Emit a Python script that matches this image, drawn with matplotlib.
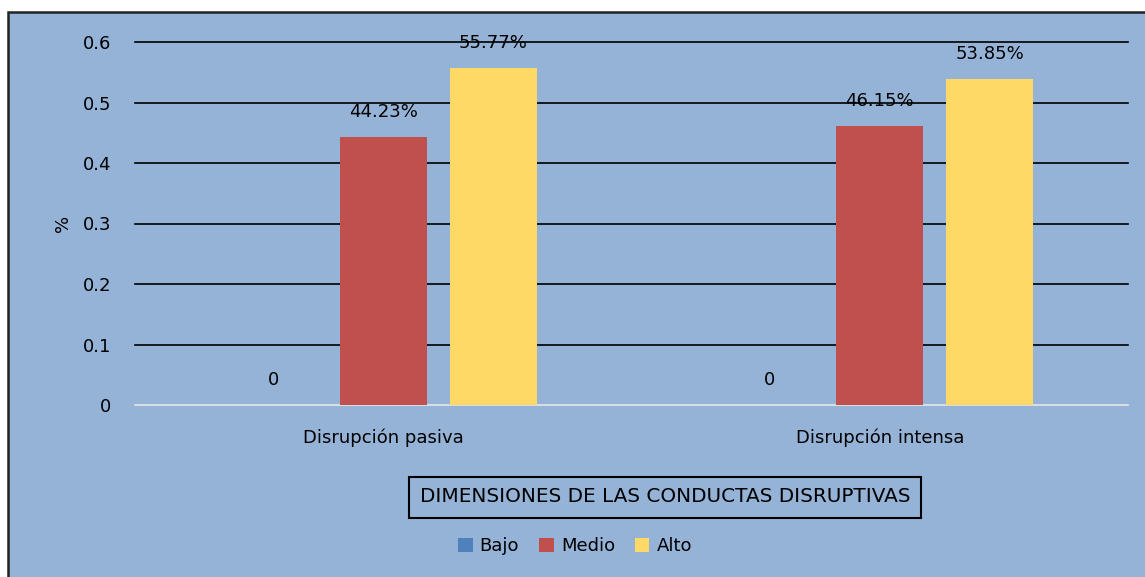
import matplotlib
matplotlib.use("Agg")
import matplotlib.pyplot as plt
from matplotlib.patches import Rectangle
import numpy as np

categories = ["Disrupción pasiva", "Disrupción intensa"]
series_names = ["Bajo", "Medio", "Alto"]
bajo = [0, 0]
medio = [0.4423, 0.4615]
alto = [0.5577, 0.5385]
labels_bajo = ["0", "0"]
labels_medio = ["44.23%", "46.15%"]
labels_alto = ["55.77%", "53.85%"]
yticks = [0, 0.1, 0.2, 0.3, 0.4, 0.5, 0.6]
ytick_labels = ["0", "0.1", "0.2", "0.3", "0.4", "0.5", "0.6"]
colors = ["#4F81BD", "#C0504D", "#FFD966"]
bg = "#95B3D7"

plt.rcParams['font.family'] = ['DejaVu Sans']

fig = plt.figure(figsize=(11.45, 5.77), dpi=100)
fig.patch.set_facecolor("white")
# outer chart area with border
fig.patches.append(Rectangle((8/1145, -0.02), 1.05, 0.02 + 1 - 12/577,
                             transform=fig.transFigure, facecolor=bg,
                             edgecolor="#222222", lw=1.8, zorder=-5))

ax = fig.add_axes([135/1145, 1 - 405/577, (1128-135)/1145, (405-42)/577])
ax.set_facecolor("none")

x = np.arange(len(categories))
w = 0.175
step = 0.2216
series = [bajo, medio, alto]
labels = [labels_bajo, labels_medio, labels_alto]
for i, (vals, lab, c) in enumerate(zip(series, labels, colors)):
    pos = x + (i - 1) * step
    ax.bar(pos, vals, width=w, color=c, zorder=3, label=series_names[i])
    for p, v, t in zip(pos, vals, lab):
        ax.annotate(t, (p, v), xytext=(0, 18), textcoords="offset points",
                    ha="center", va="center", fontsize=13, color="black", zorder=4)

ax.set_xlim(-0.5, 1.5)
ax.set_ylim(0, 0.6)
ax.set_yticks(yticks)
ax.set_yticklabels(ytick_labels)
ax.set_xticks(x)
ax.set_xticklabels(categories)
ax.tick_params(axis="both", length=0, labelsize=13)
ax.tick_params(axis="y", pad=17)
ax.tick_params(axis="x", pad=17)
for yv in yticks[1:]:
    ax.axhline(yv, color="black", lw=1.2, zorder=1, clip_on=False)
for s in ["top", "right", "left"]:
    ax.spines[s].set_visible(False)
ax.spines["bottom"].set_color("#E6E6E6")
ax.spines["bottom"].set_linewidth(1.2)
ax.spines["bottom"].set_zorder(2)
ax.set_ylabel("%", fontsize=13, labelpad=8)

fig.text(665/1145, 1 - 497/577, "DIMENSIONES DE LAS CONDUCTAS DISRUPTIVAS",
         ha="center", va="center", fontsize=14.4,
         bbox=dict(boxstyle="square,pad=0.55", facecolor="none", edgecolor="black", lw=1.5))

fig.legend(loc="center", bbox_to_anchor=(575/1145, 1 - 546/577), ncol=3,
           frameon=False, fontsize=13, handlelength=0.8, handleheight=0.8,
           handletextpad=0.4, columnspacing=1.1)

fig.savefig("out.png", dpi=100, facecolor=fig.get_facecolor())
